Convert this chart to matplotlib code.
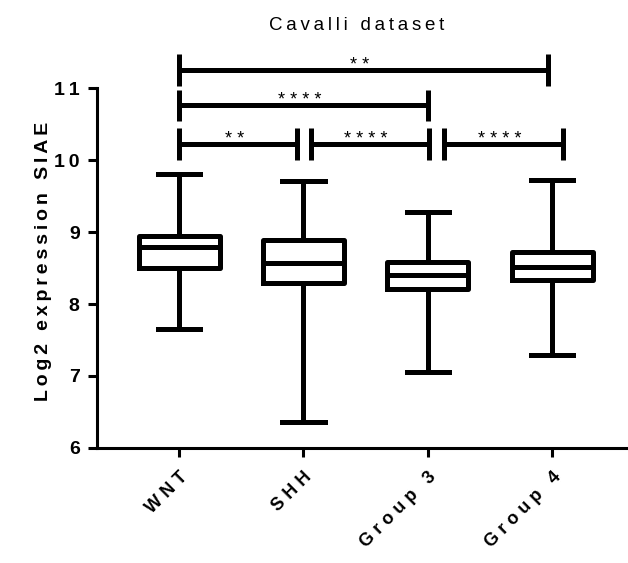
import matplotlib
matplotlib.use("Agg")
import matplotlib.pyplot as plt

plt.rcParams['font.family'] = ['Liberation Sans', 'DejaVu Sans']

# data (min, Q1, median, Q3, max)
groups = ['WNT', 'SHH', 'Group 3', 'Group 4']
mins = [7.65, 6.36, 7.06, 7.29]
q1s = [8.50, 8.29, 8.21, 8.33]
medians = [8.79, 8.57, 8.40, 8.51]
q3s = [8.94, 8.89, 8.58, 8.72]
maxs = [9.81, 9.71, 9.28, 9.72]

# significance brackets: x start, x end, height, label
br_x0 = [0.0, 1.06, 2.13, 0.0, 0.0]
br_x1 = [0.95, 2.01, 3.09, 2.0, 2.97]
br_y = [10.22, 10.22, 10.22, 10.76, 11.25]
br_lab = ['**', '****', '****', '****', '**']

SP = '\u2009'


def spaced(s, sep=SP):
    return sep.join(s)


fig = plt.figure(figsize=(6.28, 5.63), dpi=100)
ax = fig.add_axes([0.1545, 0.2043, 0.8455, 0.716])

stats = []
for i in range(len(groups)):
    stats.append({'whislo': mins[i], 'q1': q1s[i], 'med': medians[i],
                  'q3': q3s[i], 'whishi': maxs[i], 'label': groups[i]})

lw = 3.6
ax.bxp(stats, positions=range(len(groups)), widths=0.65, showfliers=False,
       capwidths=0.34,
       boxprops=dict(color='black', linewidth=lw),
       medianprops=dict(color='black', linewidth=lw),
       whiskerprops=dict(color='black', linewidth=lw),
       capprops=dict(color='black', linewidth=lw))

for x0, x1, y, lab in zip(br_x0, br_x1, br_y, br_lab):
    ax.plot([x0, x1], [y, y], color='black', lw=lw, clip_on=False,
            solid_capstyle='butt')
    for xe in (x0, x1):
        ax.plot([xe, xe], [y - 0.22, y + 0.22], color='black', lw=lw,
                clip_on=False, solid_capstyle='butt')
    ax.text((x0 + x1) / 2 - 0.03, y, spaced(lab, ' '), ha='center',
            va='baseline', fontsize=13)

ax.set_xlim(-0.66, 3.61)
ax.set_ylim(6, 11.6)
ax.set_yticks([6, 7, 8, 9, 10, 11])
ax.set_yticklabels([spaced(str(v)) for v in [6, 7, 8, 9, 10, 11]],
                   fontweight='bold', fontsize=14)
ax.set_xticks(range(len(groups)))
ax.set_xticklabels([spaced(g, '\u2009\u200a') for g in groups], rotation=45,
                   ha='right', rotation_mode='anchor', fontweight='bold',
                   fontsize=13)

for s in ['top', 'right']:
    ax.spines[s].set_visible(False)
ax.spines['left'].set_bounds(6, 11)
ax.spines['left'].set_linewidth(2.2)
ax.spines['bottom'].set_linewidth(2.2)
ax.tick_params(axis='both', width=2.2, length=6.5, direction='out')
ax.tick_params(axis='x', pad=8)
ax.tick_params(axis='y', pad=6)

ax.set_ylabel(spaced('Log2 expression SIAE'), fontweight='bold',
              fontsize=14)
ax.yaxis.set_label_coords(-0.085, 0.463)
fig.text(0.568, 0.955, spaced('Cavalli dataset'), ha='center', va='center',
         fontsize=13.5)

fig.savefig('out.png', dpi=100)
